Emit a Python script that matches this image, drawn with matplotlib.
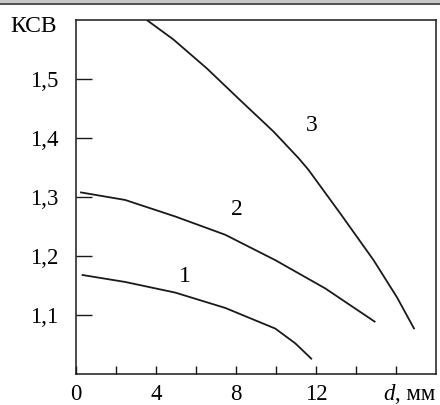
import matplotlib
matplotlib.use("Agg")
import matplotlib.pyplot as plt
from matplotlib.patches import Rectangle

plt.rcParams['font.family'] = ['Liberation Serif', 'DejaVu Serif']

# Data
d1 = [0.30, 2.47, 4.97, 7.47, 9.97, 10.97, 11.80]
k1 = [1.168, 1.156, 1.138, 1.112, 1.077, 1.052, 1.025]

d2 = [0.22, 2.47, 4.97, 7.47, 9.97, 12.47, 14.97]
k2 = [1.308, 1.295, 1.267, 1.236, 1.193, 1.145, 1.088]

d3 = [3.55, 4.88, 6.55, 8.22, 9.88, 11.13, 11.63, 13.22, 14.88, 16.05, 16.92]
k3 = [1.600, 1.567, 1.518, 1.464, 1.411, 1.366, 1.346, 1.272, 1.193, 1.130, 1.076]

curve_labels = ['1', '2', '3']
label_x = [5.47, 8.05, 11.8]
label_y = [1.165, 1.278, 1.422]

xticks = [0, 2, 4, 6, 8, 10, 12, 14, 16]
xticklabels = ['0', '', '4', '', '8', '', '12', '', '']
yticks = [1.1, 1.2, 1.3, 1.4, 1.5]
yticklabels = ['1,1', '1,2', '1,3', '1,4', '1,5']

W, H = 440, 405
fig = plt.figure(figsize=(W / 100, H / 100), dpi=100)
ax = fig.add_axes([75.7 / W, 1 - 374 / H, (436 - 75.7) / W, (374 - 20) / H])

lc = '#1a1a1a'
for x, y in ((d1, k1), (d2, k2), (d3, k3)):
    ax.plot(x, y, color=lc, lw=1.3, solid_capstyle='butt', solid_joinstyle='round')

fs = 17
tfs = 16.5
for t, x, y in zip(curve_labels, label_x, label_y):
    ax.text(x, y, t, fontsize=fs, ha='center', va='center', color='black')

ax.set_xlim(0, 18)
ax.set_ylim(1.0, 1.6)
ax.set_xticks(xticks)
ax.set_xticklabels(xticklabels)
ax.set_yticks(yticks)
ax.set_yticklabels(yticklabels)
ax.tick_params(axis='x', direction='in', length=5.8, width=1.0, pad=7.5, labelsize=tfs, color=lc)
ax.tick_params(axis='y', direction='in', length=11.5, width=1.0, pad=12.5, labelsize=tfs, color=lc)
for s in ax.spines.values():
    s.set_linewidth(1.1)
    s.set_color(lc)

# axis unit label "d, мм" (italic d)
ax.annotate('d', xy=(15.38, 0), xycoords=('data', 'axes fraction'),
            xytext=(0, -7.5), textcoords='offset points', ha='left', va='top',
            fontsize=tfs, fontstyle='italic')
ax.annotate(', мм', xy=(15.93, 0), xycoords=('data', 'axes fraction'),
            xytext=(0, -7.5), textcoords='offset points', ha='left', va='top',
            fontsize=tfs)

fig.text(57 / W, 1 - 31.7 / H, 'КСВ', ha='right', va='baseline', fontsize=fs)

# top border strip as in the reference
fig.patches.append(Rectangle((0, 1 - 3 / H), 1, 3 / H, transform=fig.transFigure,
                             facecolor='#c8c8c8', edgecolor='none'))
fig.patches.append(Rectangle((0, 1 - 4.5 / H), 1, 1.5 / H, transform=fig.transFigure,
                             facecolor='#555555', edgecolor='none'))

fig.savefig('out.png', dpi=100)
